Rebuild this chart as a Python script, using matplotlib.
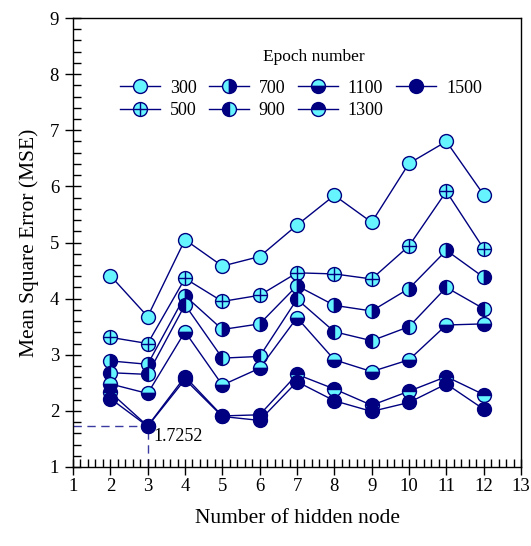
import matplotlib.pyplot as plt
from matplotlib.ticker import MultipleLocator

plt.rcParams['font.family'] = ['Liberation Serif', 'DejaVu Serif']

nodes = [2, 3, 4, 5, 6, 7, 8, 9, 10, 11, 12]
mse_300 = [4.41, 3.68, 5.05, 4.58, 4.75, 5.31, 5.84, 5.36, 6.41, 6.80, 5.85]
mse_500 = [3.31, 3.20, 4.36, 3.95, 4.06, 4.46, 4.44, 4.35, 4.94, 5.91, 4.89]
mse_700 = [2.89, 2.83, 4.05, 3.45, 3.55, 4.23, 3.88, 3.78, 4.18, 4.86, 4.38]
mse_900 = [2.68, 2.65, 3.89, 2.94, 2.97, 3.99, 3.41, 3.25, 3.50, 4.20, 3.82]
mse_1100 = [2.48, 2.31, 3.41, 2.46, 2.76, 3.66, 2.91, 2.70, 2.91, 3.53, 3.55]
mse_1300 = [2.33, 1.73, 2.61, 1.91, 1.93, 2.65, 2.39, 2.10, 2.35, 2.61, 2.29]
mse_1500 = [2.22, 1.7252, 2.56, 1.90, 1.83, 2.52, 2.18, 1.99, 2.15, 2.48, 2.03]
best_node = 3
best_mse = 1.7252

navy = '#000080'
cyan = '#66F5FF'

fig = plt.figure(figsize=(5.31, 5.46), dpi=100)
ax = fig.add_axes([0.1375, 0.1447, 0.8437, 0.8223])

common = dict(color=navy, lw=1.0, marker='o', ms=10, mec=navy, mew=1.0)

h300, = ax.plot(nodes, mse_300, mfc=cyan, **common)
h500, = ax.plot(nodes, mse_500, mfc=cyan, **common)
p500, = ax.plot(nodes, mse_500, ls='none', marker='+', ms=10, mec=navy, mew=1.0)
h700, = ax.plot(nodes, mse_700, fillstyle='left', mfc=cyan, markerfacecoloralt=navy, **common)
h900, = ax.plot(nodes, mse_900, fillstyle='left', mfc=navy, markerfacecoloralt=cyan, **common)
h1100, = ax.plot(nodes, mse_1100, fillstyle='top', mfc=cyan, markerfacecoloralt=navy, **common)
h1300, = ax.plot(nodes, mse_1300, fillstyle='top', mfc=navy, markerfacecoloralt=cyan, **common)
h1500, = ax.plot(nodes, mse_1500, mfc=navy, **common)

# dashed guide to the minimum
ax.plot([1, best_node], [best_mse, best_mse], ls=(0, (6, 4)), color='#3a3aa0', lw=1.0, zorder=1)
ax.plot([best_node, best_node], [1, best_mse], ls=(0, (6, 4)), color='#3a3aa0', lw=1.0, zorder=1)
ax.text(best_node + 0.15, best_mse - 0.18, '1.7252', fontsize=13, va='center')

ax.set_xlim(1, 13)
ax.set_ylim(1, 9)
ax.xaxis.set_major_locator(MultipleLocator(1))
ax.xaxis.set_minor_locator(MultipleLocator(0.2))
ax.yaxis.set_major_locator(MultipleLocator(1))
ax.yaxis.set_minor_locator(MultipleLocator(0.2))
ax.tick_params(which='major', direction='inout', length=12, width=1, labelsize=13.5, pad=4)
ax.tick_params(axis='x', which='major', pad=2)
ax.tick_params(which='minor', direction='in', length=6, width=1)
for s in ax.spines.values():
    s.set_linewidth(1.0)

ax.set_xlabel('Number of hidden node', fontsize=15.5, labelpad=10)
ax.set_ylabel('Mean Square Error (MSE)', fontsize=15.5, labelpad=8)

handles = [h300, (h500, p500), h700, h900, h1100, h1300, h1500]
labels = ['300', '500', '700', '900', '1100', '1300', '1500']
ax.legend(handles, labels, ncol=4, loc='upper left', bbox_to_anchor=(0.105, 0.863),
          frameon=False, fontsize=13, borderpad=0, borderaxespad=0,
          handlelength=2.2, columnspacing=0.7, handletextpad=0.55, labelspacing=0.3)
ax.text(0.538, 0.913, 'Epoch number', transform=ax.transAxes, fontsize=12.5,
        ha='center', va='center')

fig.savefig('out.png', dpi=100)
